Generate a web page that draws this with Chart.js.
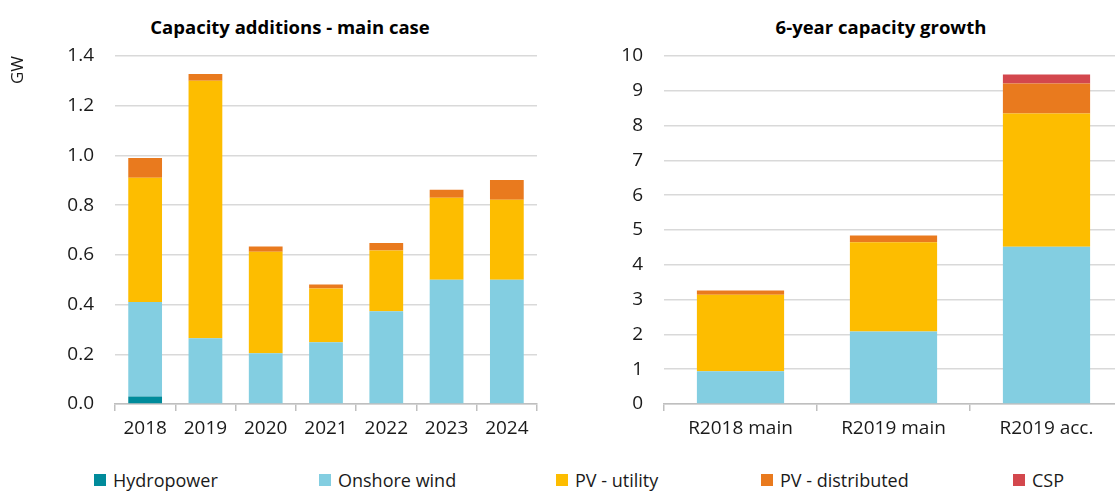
<!DOCTYPE html>
<html>
<head>
<meta charset="utf-8">
<script src="https://cdn.jsdelivr.net/npm/chart.js@4"></script>
<style>
  html, body { margin: 0; padding: 0; background: #fff; }
  body { width: 1115px; height: 492px; overflow: hidden; position: relative; font-family: "Open Sans", sans-serif; }
  canvas { position: absolute; top: 0; }
  #left { left: 0; }
  #right { left: 600px; }
  .title { position: absolute; top: 16px; width: 400px; margin-left: -200px; text-align: center;
           font-weight: bold; font-size: 18.5px; line-height: 22px; color: #000; white-space: nowrap; }
  #legend { position: absolute; top: 468px; left: 0; width: 1115px; height: 24px; }
  .item { position: absolute; top: 0; display: flex; align-items: center; font-size: 18px; color: #1a1a1a; white-space: nowrap; }
  .box { width: 12px; height: 12px; margin-right: 7px; }
</style>
</head>
<body>
<div class="title" style="left:290px">Capacity additions - main case</div>
<div class="title" style="left:881px">6-year capacity growth</div>
<canvas id="left" width="580" height="460"></canvas>
<canvas id="right" width="562" height="460"></canvas>
<div id="legend"></div>
<script>
// data
const years = ["2018", "2019", "2020", "2021", "2022", "2023", "2024"];
const hydroAdd  = [0.03, 0, 0, 0, 0, 0, 0];
const windAdd   = [0.38, 0.265, 0.204, 0.248, 0.373, 0.50, 0.50];
const pvUtilAdd = [0.50, 1.035, 0.409, 0.217, 0.245, 0.33, 0.322];
const pvDistAdd = [0.08, 0.028, 0.021, 0.016, 0.03, 0.032, 0.079];
const cspAdd    = [0, 0, 0, 0, 0, 0, 0];

const cases = ["R2018 main", "R2019 main", "R2019 acc."];
const hydroGrowth  = [0, 0, 0];
const windGrowth   = [0.94, 2.08, 4.52];
const pvUtilGrowth = [2.20, 2.57, 3.83];
const pvDistGrowth = [0.12, 0.19, 0.86];
const cspGrowth    = [0, 0, 0.26];

const seriesNames = ["Hydropower", "Onshore wind", "PV - utility", "PV - distributed", "CSP"];
const COLORS = ["#008B9B", "#83CEE1", "#FDBD00", "#E97A1E", "#D3474D"];

const FONT = "'Open Sans', sans-serif";
const TEXT = "#1a1a1a";
const GRID = "#D9D9D9";
const AXIS = "#BFBFBF";

function datasets(arrs, barPct){
  return arrs.map((d, i) => ({
    label: seriesNames[i],
    data: d,
    backgroundColor: COLORS[i],
    borderWidth: 0,
    barPercentage: barPct,
    categoryPercentage: 1
  }));
}

function makeChart(id, labels, arrs, opts){
  const ctx = document.getElementById(id).getContext("2d");
  return new Chart(ctx, {
    type: "bar",
    data: { labels, datasets: datasets(arrs, opts.barPct) },
    options: {
      responsive: false,
      animation: false,
      devicePixelRatio: 1,
      layout: { padding: { left: 0, right: opts.padRight, top: 56, bottom: 0 } },
      plugins: {
        legend: { display: false },
        tooltip: { enabled: false },
        title: { display: false }
      },
      scales: {
        x: {
          stacked: true,
          offset: true,
          grid: { display: true, offset: true, drawOnChartArea: false, drawTicks: true, tickLength: 7, color: AXIS, lineWidth: 1.5 },
          border: { display: true, color: AXIS, width: 1.5 },
          ticks: { color: TEXT, font: { family: FONT, size: 19 }, padding: 6, maxRotation: 0 },
          afterFit: (s) => { s.height = 56; }
        },
        y: {
          stacked: true,
          min: 0,
          max: opts.max,
          grid: { color: GRID, lineWidth: 1.5, drawTicks: false },
          border: { display: false },
          ticks: {
            stepSize: opts.step,
            color: TEXT,
            font: { family: FONT, size: 19 },
            padding: opts.tickPad,
            callback: opts.fmt
          },
          title: opts.yTitle ? {
            display: true,
            text: opts.yTitle,
            align: "end",
            color: TEXT,
            font: { family: FONT, size: 17 },
            padding: { top: 8, bottom: 0 }
          } : { display: false },
          afterFit: (s) => { s.width = opts.yWidth; }
        }
      }
    }
  });
}

makeChart("left", years, [hydroAdd, windAdd, pvUtilAdd, pvDistAdd, cspAdd], {
  max: 1.4, step: 0.2,
  fmt: (v) => Number(v).toFixed(1),
  yTitle: "GW",
  yWidth: 115, tickPad: 21,
  padRight: 43,
  barPct: 0.56
});

makeChart("right", cases, [hydroGrowth, windGrowth, pvUtilGrowth, pvDistGrowth, cspGrowth], {
  max: 10, step: 1,
  fmt: (v) => String(v),
  yTitle: null,
  yWidth: 64, tickPad: 21,
  padRight: 39,
  barPct: 0.57
});

// shared legend under both charts
const legendX = [94, 319, 556, 761, 1013];
const legend = document.getElementById("legend");
seriesNames.forEach((name, i) => {
  const it = document.createElement("div");
  it.className = "item";
  it.style.left = legendX[i] + "px";
  it.innerHTML = `<span class="box" style="background:${COLORS[i]}"></span><span>${name}</span>`;
  legend.appendChild(it);
});
</script>
</body>
</html>
